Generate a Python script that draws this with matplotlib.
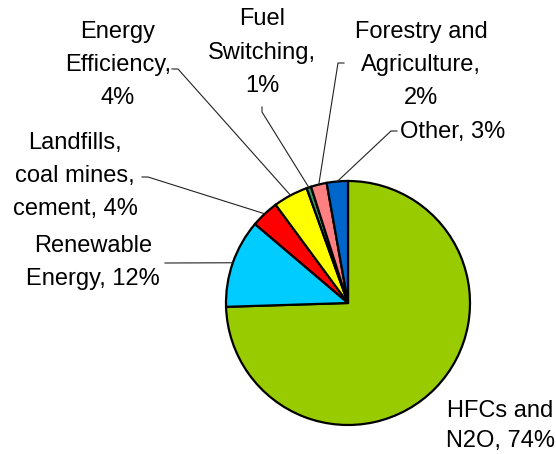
import matplotlib
matplotlib.use("Agg")
import matplotlib.pyplot as plt
import matplotlib.transforms as mtransforms
from matplotlib.lines import Line2D
import numpy as np

# ---- data ----
categories = ["HFCs and N2O", "Renewable Energy", "Landfills, coal mines, cement",
              "Energy Efficiency", "Fuel Switching", "Forestry and Agriculture", "Other"]
shares = [74.5, 11.7, 3.7, 4.6, 0.6, 2.1, 2.8]
label_texts = ["HFCs and\nN2O, 74%", "Renewable\nEnergy, 12%", "Landfills,\ncoal mines,\ncement, 4%",
               "Energy\nEfficiency,\n4%", "Fuel\nSwitching,\n1%", "Forestry and\nAgriculture,\n2%",
               "Other, 3%"]
colors = ["#99CC00", "#00CCFF", "#FF0000", "#FFFF00", "#339966", "#FF8080", "#0066CC"]

# ---- layout (pixels, origin top-left) ----
W, H = 556, 454
cx, cy, R = 348, 303, 122
# (x center, first baseline, line pitch)
label_pos = [(500, 417, 30), (93, 252, 33), (75, 149, 33),
             (118, 38, 33), (262, 25, 33.5), (421, 38, 33), (453, 138, 33)]
# leader line start and elbow (None for no leader)
leader = [None,
          [(165, 263)],
          [(142, 177), (148, 177)],
          [(172, 69), (178, 69)],
          [(262, 107), (262, 112)],
          [(344, 63), (338, 63)],
          [(397, 131), (391, 131)]]

fig = plt.figure(figsize=(W / 100, H / 100), dpi=100)
ax = fig.add_axes([(cx - R) / W, (H - cy - R) / H, 2 * R / W, 2 * R / H])

wedges, _ = ax.pie(shares, colors=colors, startangle=90, counterclock=False,
                   radius=1.0, wedgeprops=dict(edgecolor="black", linewidth=1.6))
ax.set_xlim(-1, 1)
ax.set_ylim(-1, 1)
ax.set_aspect("auto")
ax.axis("off")

px = mtransforms.Affine2D().scale(1 / W, -1 / H).translate(0, 1) + fig.transFigure

font = dict(family=["Liberation Sans", "DejaVu Sans"], fontsize=17, color="black")

for i, txt in enumerate(label_texts):
    x0, y0, pitch = label_pos[i]
    for j, line in enumerate(txt.split("\n")):
        fig.text(x0, y0 + j * pitch, line, transform=px, ha="center", va="baseline", **font)
    if leader[i] is not None:
        w = wedges[i]
        mid = np.deg2rad((w.theta1 + w.theta2) / 2)
        end_disp = ax.transData.transform((w.r * np.cos(mid), w.r * np.sin(mid)))
        end_px = px.inverted().transform(end_disp)
        pts = list(leader[i]) + [tuple(end_px)]
        xs = [p[0] for p in pts]
        ys = [p[1] for p in pts]
        fig.add_artist(Line2D(xs, ys, transform=px, color="#222222", linewidth=0.8))

fig.savefig("out.png", dpi=100)
